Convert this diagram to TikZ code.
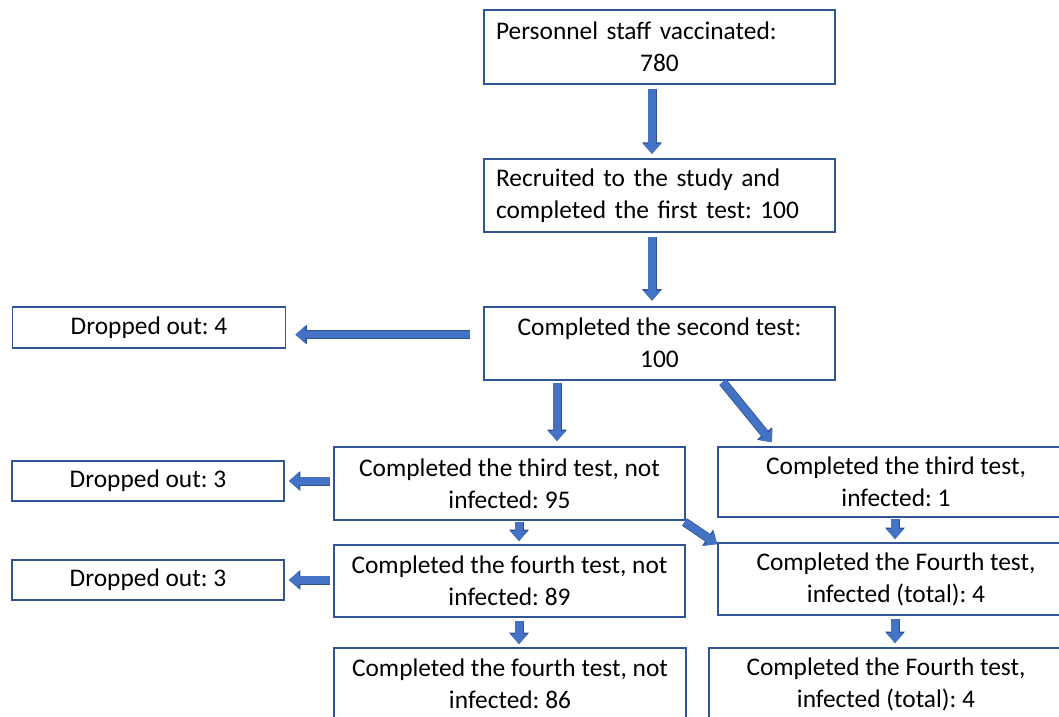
\documentclass[tikz,border=0pt]{standalone}
\usepackage{fontspec}
\setmainfont{Carlito}
\usetikzlibrary{arrows.meta,positioning}
\definecolor{boxline}{HTML}{2F5597}
\definecolor{arrowfill}{HTML}{4472C4}
\definecolor{arrowedge}{HTML}{2F528F}
\tikzset{
  box/.style={draw=boxline, line width=1.8pt, fill=white, align=center,
              inner sep=0pt, minimum width=351pt, minimum height=73pt,
              font=\fontsize{25.4}{32}\selectfont\frenchspacing},
  dropbox/.style={box, minimum width=273pt, minimum height=41pt},
  flow/.style={line width=7.5pt, draw=arrowfill, -{Triangle[width=17pt,length=10pt]},
               preaction={draw=arrowedge, line width=9pt, -{Triangle[width=19pt,length=11.5pt]}}},
}

\begin{document}
\begin{tikzpicture}[x=1pt, y=-1pt]
    \useasboundingbox (0,0) rectangle (1059,716);

    \node[box, minimum height=74pt, text width=327pt, align=left] (staff) at (659.5,47)
      {Personnel staff vaccinated:\\\makebox[\linewidth]{780}};
    \node[box, below=73pt of staff, text width=327pt, align=left] (recruit)
      {Recruited to the study and\\completed the first test: 100};
    \node[box, below=73pt of recruit] (second) {Completed the second test:\\100};
    \node[dropbox] (drop4) at (149,327.5) {Dropped out: 4};

    \node[box] (notinf3) at (509.5,483.5) {Completed the third test, not\\infected: 95};
    \node[box, minimum width=356pt, minimum height=70pt] (inf3) at (896,482)
      {Completed the third test,\\infected: 1};
    \node[dropbox, minimum width=272pt, minimum height=40pt] (drop3a) at (148,481) {Dropped out: 3};

    \node[box, minimum height=72pt] (notinf4) at (509.5,581) {Completed the fourth test, not\\infected: 89};
    \node[box, minimum width=356pt, minimum height=72pt] (inf4) at (896,579)
      {Completed the Fourth test,\\infected (total): 4};
    \node[dropbox, minimum width=272pt, minimum height=40pt] (drop3b) at (148,580) {Dropped out: 3};

    \node[box, minimum width=352pt, minimum height=72pt] (notinf5) at (510,684) {Completed the fourth test, not\\infected: 86};
    \node[box, minimum width=354pt, minimum height=72pt] (inf5) at (886,684)
      {Completed the Fourth test,\\infected (total): 4};

    % spine
    \draw[flow, shorten <=4pt, shorten >=4pt] ([xshift=-7.5pt]staff.south) -- ([xshift=-7.5pt]recruit.north);
    \draw[flow, shorten <=4pt, shorten >=5pt] ([xshift=-7.5pt]recruit.south) -- ([xshift=-7.5pt]second.north);
    \draw[flow, shorten <=13pt, shorten >=9pt] ([yshift=8.5pt]second.west) -- ([yshift=8.5pt]second.west -| drop4.east);
    \draw[flow, shorten <=2pt, shorten >=5pt] ([xshift=-102.5pt]second.south) -- ([xshift=-102.5pt]second.south |- notinf3.north);
    \draw[flow, shorten <=2pt, shorten >=5pt] ([xshift=62pt]second.south) -- ([xshift=-121pt]inf3.north);

    % third and fourth tests
    \draw[flow, shorten <=3pt, shorten >=4pt] ([yshift=2.5pt]notinf3.west) -- ([yshift=2.5pt]notinf3.west -| drop3a.east);
    \draw[flow, shorten <=1pt, shorten >=3pt] ([xshift=9.5pt]notinf3.south) -- ([xshift=9.5pt]notinf3.south |- notinf4.north);
    \draw[flow, shorten <=2pt, shorten >=0pt] ([xshift=-3pt]notinf3.south east) -- ([yshift=-2pt]inf4.north west);
    \draw[flow, shorten <=1pt, shorten >=3pt] ([xshift=-1pt]inf3.south) -- ([xshift=-1pt]inf3.south |- inf4.north);
    \draw[flow, shorten <=3pt, shorten >=4pt] ([yshift=1pt]notinf4.west) -- ([yshift=1pt]notinf4.west -| drop3b.east);
    \draw[flow, shorten <=3pt, shorten >=3pt] ([xshift=9.5pt]notinf4.south) -- ([xshift=9.5pt]notinf4.south |- notinf5.north);
    \draw[flow, shorten <=3pt, shorten >=4pt] ([xshift=-1pt]inf4.south) -- ([xshift=-1pt]inf4.south |- inf5.north);
  \end{tikzpicture}
\end{document}
